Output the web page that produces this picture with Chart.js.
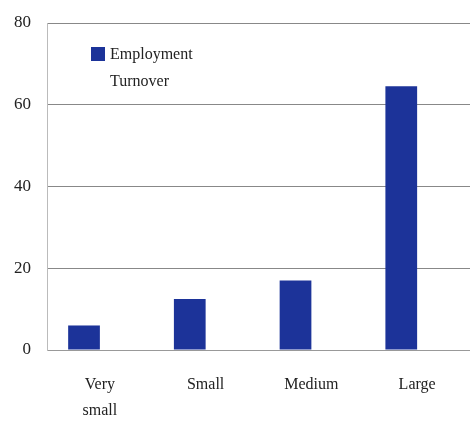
<!DOCTYPE html>
<html>
<head>
<meta charset="utf-8">
<script src="https://cdn.jsdelivr.net/npm/chart.js@4/dist/chart.umd.min.js"></script>
<style>
  html, body { margin: 0; padding: 0; background: #fff; }
  #wrap { position: relative; width: 470px; height: 421px; }
  #legend { position: absolute; left: 91px; top: 40px; font-family: "Liberation Serif", serif; font-size: 16px; color: #222; }
  #legend div { display: flex; align-items: center; height: 27px; }
  #legend span.box { display: inline-block; width: 14px; height: 14px; margin-right: 5px; }
</style>
</head>
<body>
<div id="wrap">
  <canvas id="sizeChart" width="470" height="421"></canvas>
  <div id="legend"></div>
</div>
<script>
// chart values
const categories = [['Very', 'small'], 'Small', 'Medium', 'Large'];
const employment = [6, 12.5, 17, 64.5];
const turnover = [null, null, null, null];  // not visible in the picture
const yTicks = [0, 20, 40, 60, 80];

const serif = '"Liberation Serif", serif';

function buildLegend(chart) {
    const box = document.getElementById('legend');
    box.innerHTML = '';
    chart.data.datasets.forEach(ds => {
        const row = document.createElement('div');
        const sw = document.createElement('span');
        sw.className = 'box';
        sw.style.background = ds.backgroundColor;
        row.appendChild(sw);
        row.appendChild(document.createTextNode(ds.label));
        box.appendChild(row);
    });
}

function createChart() {
    const ctx = document.getElementById('sizeChart');
    const chart = new Chart(ctx, {
        type: 'bar',
        data: {
            labels: categories,
            datasets: [{
                label: 'Employment',
                data: employment,
                backgroundColor: '#1c3399'
            }, {
                label: 'Turnover',
                data: turnover,
                backgroundColor: 'transparent'
            }]
        },
        options: {
            responsive: false,
            animation: false,
            layout: { padding: { top: 23, right: 0, left: 0, bottom: 0 } },
            datasets: {
                bar: { barPercentage: 1, categoryPercentage: 0.6 }
            },
            scales: {
                x: {
                    grid: { display: false },
                    border: { color: '#999' },
                    ticks: {
                        color: '#222',
                        padding: 14,
                        font: { family: serif, size: 16, lineHeight: 1.6 }
                    },
                    afterFit: scale => {
                        scale.height = 71;
                        scale.paddingLeft = 0;
                        scale.paddingRight = 0;
                    }
                },
                y: {
                    min: 0,
                    max: 80,
                    afterBuildTicks: scale => {
                        scale.ticks = yTicks.map(v => ({ value: v }));
                    },
                    grid: { color: '#888', drawTicks: false },
                    border: { color: '#bbb' },
                    ticks: {
                        color: '#222',
                        padding: 16,
                        font: { family: serif, size: 17 }
                    },
                    afterFit: scale => {
                        scale.width = 47;
                        scale.paddingTop = 0;
                        scale.paddingBottom = 0;
                    }
                }
            },
            plugins: {
                legend: { display: false },
                tooltip: { enabled: false }
            }
        }
    });
    buildLegend(chart);
}

document.addEventListener('DOMContentLoaded', createChart);
</script>
</body>
</html>
